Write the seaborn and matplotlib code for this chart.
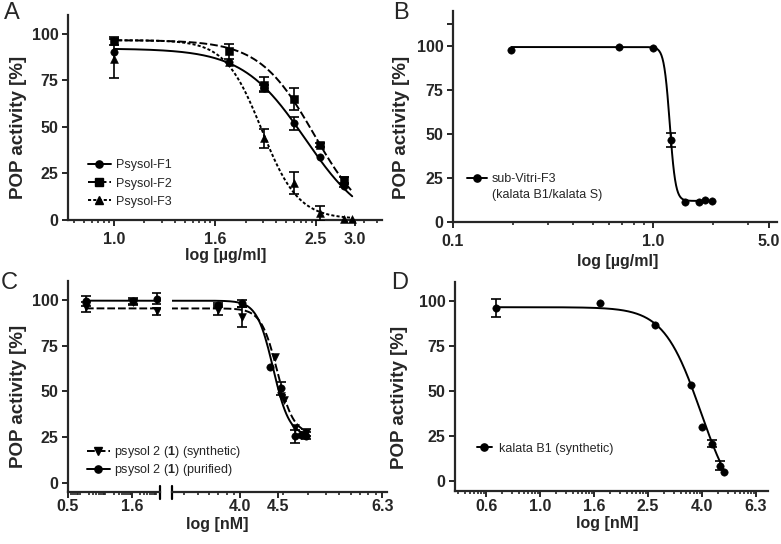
import numpy as np
import seaborn as sns
import matplotlib.pyplot as plt
from matplotlib.lines import Line2D
from matplotlib.ticker import FixedLocator, NullFormatter

# --- Panel A: Psysol fractions, concentration in ug/ml
a_conc = [1.0, 1.69, 1.98, 2.27, 2.56, 2.85]
a_f1 = [90.3, 84.6, 70.8, 51.9, 33.8, 18.5]
a_f1_err = [0.0, 0.0, 1.5, 3.6, 0.0, 1.0]
a_f2 = [96.0, 90.6, 72.6, 64.9, 40.2, 21.6]
a_f2_err = [2.0, 4.0, 4.0, 6.0, 1.0, 1.5]
a_f3_conc = [1.0, 1.69, 1.98, 2.27, 2.56, 2.85, 2.96]
a_f3 = [86.5, 85.0, 43.8, 20.0, 3.6, 0.5, 0.5]
a_f3_err = [10.5, 0.0, 5.0, 6.0, 4.0, 0.0, 0.0]
# fitted curves: top, bottom, IC50, hill slope
a_f1_fit = (92.0, -5.0, 2.39, 7.0)
a_f2_fit = (96.5, -5.0, 2.49, 8.0)
a_f3_fit = (96.5, 0.5, 1.96, 12.0)

# --- Panel B: sub-Vitri-F3
b_conc = [0.196, 0.679, 1.0, 1.23, 1.445, 1.69, 1.82, 1.98]
b_vals = [97.7, 99.6, 98.7, 46.9, 11.6, 11.6, 12.7, 12.1]
b_err = [0.0, 0.0, 0.0, 4.0, 0.0, 0.0, 0.0, 0.0]
b_fit = (99.5, 12.0, 1.213, 30.0)

# --- Panel C: psysol 2, concentration in nM
c_pur_conc = [0.69, 1.6, 2.48, 3.70, 4.01, 4.39, 4.54, 4.75, 4.85, 4.93]
c_pur = [99.3, 99.3, 100.5, 97.1, 98.0, 63.1, 51.6, 25.5, 26.0, 25.8]
c_pur_err = [2.5, 1.5, 3.0, 1.0, 2.0, 0.0, 3.5, 3.5, 0.0, 2.0]
c_syn_conc = [0.69, 1.6, 2.48, 3.70, 4.01, 4.45, 4.54, 4.59, 4.75, 4.93]
c_syn = [96.0, 98.5, 93.6, 94.4, 90.5, 68.9, 47.5, 45.3, 29.8, 27.5]
c_syn_err = [2.5, 1.5, 2.0, 2.5, 5.5, 0.0, 0.0, 0.0, 0.0, 2.0]
c_pur_fit = (99.5, 25.5, 4.43, 38.0)
c_syn_fit = (95.3, 26.5, 4.49, 38.0)

# --- Panel D: kalata B1
d_conc = [0.687, 1.667, 2.67, 3.62, 3.97, 4.35, 4.65, 4.82]
d_vals = [96.3, 98.7, 86.7, 53.3, 30.2, 20.6, 8.3, 5.2]
d_err = [5.0, 0.0, 0.0, 0.0, 0.0, 2.0, 2.5, 0.0]
d_fit = (96.5, -20.0, 3.94, 6.3)

sns.set_style('ticks')
plt.rcParams['font.family'] = ['Liberation Sans', 'DejaVu Sans']
plt.rcParams['font.weight'] = 'bold'
plt.rcParams['mathtext.fontset'] = 'custom'
plt.rcParams['mathtext.rm'] = 'Liberation Sans'
plt.rcParams['mathtext.bf'] = 'Liberation Sans:bold'

W, H = 781, 544
fig = plt.figure(figsize=(W / 100, H / 100), dpi=100)
LEG = {'size': 9, 'weight': 'normal'}


def px_axes(x0, y0, x1, y1):
    return fig.add_axes([x0 / W, 1 - y1 / H, (x1 - x0) / W, (y1 - y0) / H])


def logistic(conc, top, bottom, ic50, hill):
    conc = np.asarray(conc, dtype=float)
    return bottom + (top - bottom) / (1 + (conc / ic50) ** hill)


def draw_series(ax, conc, vals, err, fit, marker, ls, size=28, clip=False, span=None):
    lo, hi = span if span else (min(conc), max(conc))
    xs = np.geomspace(lo, hi, 400)
    sns.lineplot(x=xs, y=logistic(xs, *fit), ax=ax, color='black', lw=1.4,
                 linestyle=ls, estimator=None, sort=False, legend=False)
    c, v, e = np.array(conc), np.array(vals), np.array(err)
    m = e > 0
    if m.any():
        ax.errorbar(c[m], v[m], yerr=e[m], fmt='none', ecolor='black',
                    elinewidth=1.2, capsize=3.5, capthick=1.2, zorder=3)
    sns.scatterplot(x=conc, y=vals, ax=ax, marker=marker, s=size, color='black',
                    edgecolor='black', linewidth=0.4, zorder=4, clip_on=clip, legend=False)


def prism_minor(step, lo, hi):
    # Prism style: each major interval subdivided like a decade
    out = []
    for j in range(-20, 20):
        a = j * step
        for k in range(2, 10):
            v = 10 ** (a + step * np.log10(k))
            if lo < v < hi:
                out.append(v)
    return out


def style(ax, xticks, xlabels, minors, ylim, yleft=True, xpad=3):
    ax.set_xscale('log')
    ax.set_ylim(*ylim)
    ax.set_xticks(xticks, xlabels)
    ax.xaxis.set_minor_locator(FixedLocator(minors))
    ax.xaxis.set_minor_formatter(NullFormatter())
    ax.tick_params(axis='both', which='major', length=4.5, width=1.4, labelsize=11.5)
    ax.tick_params(axis='x', which='major', pad=xpad)
    ax.tick_params(axis='y', which='major', pad=2.5)
    ax.tick_params(axis='x', which='minor', length=2.5, width=1.2)
    ax.tick_params(axis='y', which='minor', length=4.5, width=1.4)
    sns.despine(ax=ax)
    for s in ['left', 'bottom']:
        ax.spines[s].set_linewidth(1.6)
    if yleft:
        ax.set_yticks([0, 25, 50, 75, 100], ['0', '25', '50', '75', '100'])
    else:
        ax.spines['left'].set_visible(False)
        ax.set_yticks([])
    ax.set_xlabel('')
    ax.set_ylabel('')


def ylabel(ax, xfrac):
    ax.set_ylabel('POP activity [%]', fontsize=13.5, fontweight='bold')
    ax.yaxis.set_label_coords(xfrac, 0.45)


def xlabel(ax, text, xfrac, yfrac):
    ax.set_xlabel(text, fontsize=11.5, fontweight='bold')
    ax.xaxis.set_label_coords(xfrac, yfrac)


def handle(marker, ls, ms=5.2):
    return Line2D([], [], color='black', lw=1.4, linestyle=ls, marker=marker, markersize=ms)


dash = (0, (4, 1.5))
dot = (0, (1.6, 1.1))

# ---------------- A
axA = px_axes(68, 15, 382, 220)
axA.set_xscale('log')
a_span = (min(a_f3_conc), max(a_f3_conc))
draw_series(axA, a_conc, a_f1, a_f1_err, a_f1_fit, 'o', '-', span=a_span)
draw_series(axA, a_conc, a_f2, a_f2_err, a_f2_fit, 's', dash, span=a_span)
draw_series(axA, a_f3_conc, a_f3, a_f3_err, a_f3_fit, '^', dot, size=32)
axA.set_xlim(0.811, 3.39)
style(axA, [1.0, 10 ** 0.2, 10 ** 0.4, 3.0], ['1.0', '1.6', '2.5', '3.0'],
      prism_minor(0.2, 0.811, 3.39), (0, 110), xpad=4)
ylabel(axA, -0.131)
xlabel(axA, 'log [µg/ml]', 0.503, -0.135)
axA.legend([handle('o', '-'), handle('s', dash), handle('^', dot)],
           ['Psysol-F1', 'Psysol-F2', 'Psysol-F3'], loc='upper left',
           bbox_to_anchor=(0.064, 0.296), frameon=False, prop=LEG,
           handlelength=1.8, handletextpad=0.4, labelspacing=0.5,
           borderpad=0, borderaxespad=0)

# ---------------- B
axB = px_axes(453, 11, 777, 222)
axB.set_xscale('log')
draw_series(axB, b_conc, b_vals, b_err, b_fit, 'o', '-')
axB.set_xlim(0.1, 4.17)
style(axB, [0.1, 1.0, 3.8], ['0.1', '1.0', '5.0'],
      [0.2, 0.3, 0.4, 0.5, 0.6, 0.7, 0.8, 0.9, 2, 3], (0, 120), xpad=4)
axB.yaxis.set_minor_locator(FixedLocator([112.5]))
ylabel(axB, -0.133)
xlabel(axB, 'log [µg/ml]', 0.508, -0.152)
axB.legend([handle('o', '-'), Line2D([], [], lw=0)],
           ['sub-Vitri-F3', '(kalata B1/kalata S)'], loc='upper left',
           bbox_to_anchor=(0.043, 0.231), frameon=False, prop=LEG,
           handlelength=1.6, handletextpad=0.4, labelspacing=0.28,
           borderpad=0, borderaxespad=0)

# ---------------- C (broken axis)
axC1 = px_axes(68, 280.5, 160, 492.2)
axC2 = px_axes(172, 280.5, 387, 492.2)
for ax in (axC1, axC2):
    ax.set_xscale('log')
    ax.set_facecolor('none')
    draw_series(ax, c_syn_conc, c_syn, c_syn_err, c_syn_fit, 'v', dash, size=32, clip=True)
    draw_series(ax, c_pur_conc, c_pur, c_pur_err, c_pur_fit, 'o', '-', clip=True)
axC1.set_xlim(0.5, 2.62)
axC2.set_xlim(3.19, 6.41)
style(axC1, [0.5, 10 ** 0.2], ['0.5', '1.6'], prism_minor(0.2, 0.5, 2.62), (-5, 110.5), xpad=0.5)
style(axC2, [10 ** 0.6, 4.5, 10 ** 0.8], ['4.0', '4.5', '6.3'],
      prism_minor(0.2, 3.19, 6.41), (-5, 110.5), yleft=False, xpad=0.5)
axC1.plot([1, 1], [-0.03, 0.03], transform=axC1.transAxes, color='black', lw=1.6, clip_on=False)
axC2.plot([0, 0], [-0.03, 0.03], transform=axC2.transAxes, color='black', lw=1.6, clip_on=False)
ylabel(axC1, -0.446)
xlabel(axC2, 'log [nM]', 0.212, -0.118)
legC = axC1.legend([handle('v', dash), handle('o', '-')],
                   [r'psysol 2 ($\mathbf{1}$) (synthetic)', r'psysol 2 ($\mathbf{1}$) (purified)'],
                   loc='upper left', bbox_to_anchor=(0.207, 0.228), frameon=False, prop=LEG,
                   handlelength=1.8, handletextpad=0.35, labelspacing=0.2,
                   borderpad=0, borderaxespad=0)
legC.set_zorder(10)

# ---------------- D
axD = px_axes(455, 282, 768, 491)
axD.set_xscale('log')
draw_series(axD, d_conc, d_vals, d_err, d_fit, 'o', '-')
axD.set_xlim(0.484, 6.99)
d_ticks = [10 ** (0.2 * k) for k in range(-1, 5)]
style(axD, d_ticks, ['%.1f' % t for t in d_ticks],
      prism_minor(0.2, 0.484, 6.99), (-5.6, 110.5), xpad=1)
ylabel(axD, -0.150)
xlabel(axD, 'log [nM]', 0.487, -0.12)
axD.legend([handle('o', '-')], ['kalata B1 (synthetic)'], loc='upper left',
           bbox_to_anchor=(0.07, 0.231), frameon=False, prop=LEG,
           handlelength=1.2, handletextpad=0.6, borderpad=0, borderaxespad=0)

# panel letters
for letter, x, y in [('A', 4, 2), ('B', 393, 2), ('C', 1, 272), ('D', 391, 272)]:
    fig.text(x / W, 1 - y / H, letter, fontsize=17, fontweight='normal', va='top', ha='left')

fig.savefig('out.png', dpi=100)
